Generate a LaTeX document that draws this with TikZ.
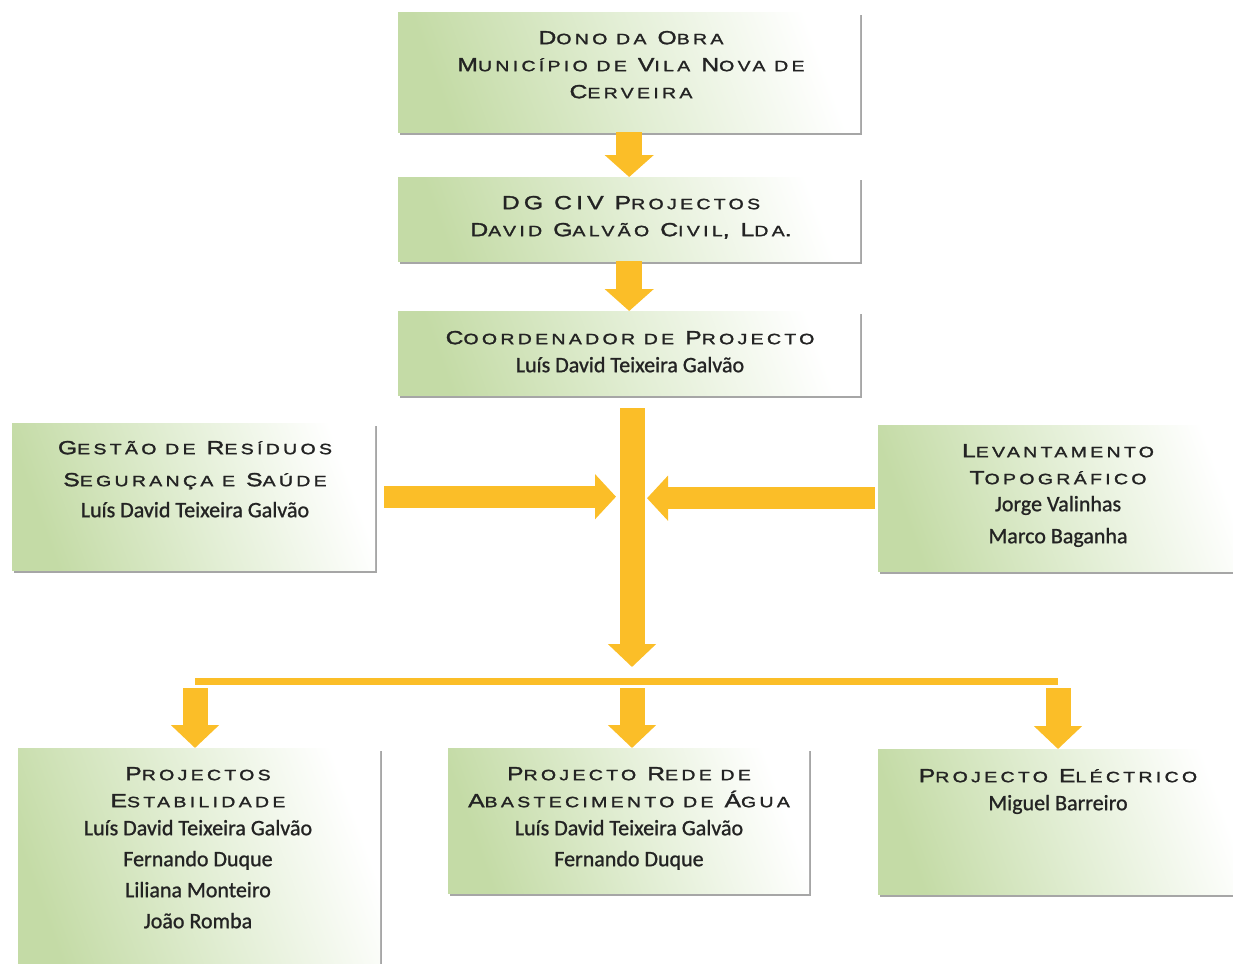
\documentclass[tikz,border=0pt]{standalone}
\usepackage{fontspec}
\usetikzlibrary{arrows.meta,shadows}
\newfontfamily\hdfont[FakeStretch=1.3,LetterSpace=22,FakeBold=1.6]{Liberation Sans}
\newfontfamily\nmfont[FakeBold=1]{Carlito}
\definecolor{arrowc}{RGB}{251,190,40}
\definecolor{boxg}{RGB}{196,219,166}
\definecolor{boxm}{RGB}{226,238,212}
\definecolor{hdc}{RGB}{35,35,35}
\newcommand\lsc[1]{{\fontsize{15}{27}\selectfont #1}}
\newcommand\nm[1]{{\nmfont\fontsize{22}{27}\selectfont #1}}
\tikzset{
  box/.style={rectangle, inner sep=0pt, top color=white, bottom color=boxg, middle color=boxm, shading angle=-70,
    drop shadow={shadow xshift=2pt, shadow yshift=-3pt, fill=black!50, opacity=0.7}},
  txt/.style={anchor=north, inner sep=0pt, align=center, text=hdc, font=\hdfont\fontsize{19}{27}\selectfont},
  arr/.style={draw=arrowc, line width=25pt, -{Triangle[width=47pt,length=23pt]}},
  sarr/.style={draw=arrowc, line width=26pt, -{Triangle[width=48pt,length=22pt]}},
  harr/.style={draw=arrowc, line width=22pt, -{Triangle[width=44pt,length=21pt]}}
}
\begin{document}
\begin{tikzpicture}[x=1pt,y=-1pt]
\useasboundingbox (0,0) rectangle (1233,963);
% boxes
\node[box, anchor=north west, minimum width=462pt, minimum height=120pt] (b1) at (398,12) {};
\node[box, anchor=north west, minimum width=462pt, minimum height=84pt] (b2) at (398,177) {};
\node[box, anchor=north west, minimum width=462pt, minimum height=84pt] (b3) at (398,311) {};
\node[box, anchor=north west, minimum width=363pt, minimum height=147pt] (bl) at (12,423) {};
\node[box, anchor=north west, minimum width=370pt, minimum height=146pt] (br) at (878,425) {};
\node[box, anchor=north west, minimum width=362pt, minimum height=230pt] (p1) at (18,748) {};
\node[box, anchor=north west, minimum width=361pt, minimum height=145pt] (p2) at (448,748) {};
\node[box, anchor=north west, minimum width=370pt, minimum height=145pt] (p3) at (878,749) {};
% texts
\node[txt] (t1) at (631,22) {\rule{0pt}{22pt}D\lsc{ONO DA} O\lsc{BRA}\\ M\lsc{UNICÍPIO DE} V\lsc{ILA} N\lsc{OVA DE}\\ C\lsc{ERVEIRA}};
\node[txt] (t2) at (631,187) {\rule{0pt}{22pt}DG CIV P\lsc{ROJECTOS}\\ D\lsc{AVID} G\lsc{ALVÃO} C\lsc{IVIL}, L\lsc{DA}.};
\node[txt] (t3) at (630,322) {\rule{0pt}{22pt}C\lsc{OORDENADOR DE} P\lsc{ROJECTO}\\[1pt] \nm{Luís David Teixeira Galvão}};
\node[txt] (tl) at (195,432) {\rule{0pt}{22pt}G\lsc{ESTÃO DE} R\lsc{ESÍDUOS}\\[5pt] S\lsc{EGURANÇA E} S\lsc{AÚDE}\\[4pt] \nm{Luís David Teixeira Galvão}};
\node[txt] (tr) at (1058,435) {\rule{0pt}{22pt}L\lsc{EVANTAMENTO}\\ T\lsc{OPOGRÁFICO}\\ \nm{Jorge Valinhas}\\[5pt] \nm{Marco Baganha}};
\node[txt] (tp1) at (198,758) {\rule{0pt}{22pt}P\lsc{ROJECTOS}\\ E\lsc{STABILIDADE}\\[1pt] \nm{Luís David Teixeira Galvão}\\[4pt] \nm{Fernando Duque}\\[4pt] \nm{Liliana Monteiro}\\[4pt] \nm{João Romba}};
\node[txt] (tp2) at (629,758) {\rule{0pt}{22pt}P\lsc{ROJECTO} R\lsc{EDE DE}\\ A\lsc{BASTECIMENTO DE} Á\lsc{GUA}\\[1pt] \nm{Luís David Teixeira Galvão}\\[4pt] \nm{Fernando Duque}};
\node[txt] (tp3) at (1058,760) {\rule{0pt}{22pt}P\lsc{ROJECTO} E\lsc{LÉCTRICO}\\[1pt] \nm{Miguel Barreiro}};
% connectors
\coordinate (hub) at (632,667);
\coordinate (jl) at (616,500);
\coordinate (jr) at (647,500);
\coordinate (barL) at (195,681);
\coordinate (barM) at (632,681);
\coordinate (barR) at (1058,681);
\draw[sarr] (b1.south) -- (b2.north);
\draw[sarr] (b2.south) -- (b3.north);
\draw[arr, shorten <=13pt] (b3.south -| hub) -- (hub);
\draw[harr, shorten <=9pt] (bl.east) -- (bl.east -| jl);
\draw[harr, shorten <=3pt] (br.west) -- (br.west -| jr);
\draw[draw=arrowc, line width=7pt] (barL) -- (barR);
\draw[arr, shorten <=7pt] (barL) -- (barL |- p1.north);
\draw[arr, shorten <=7pt] (barM) -- (barM |- p2.north);
\draw[arr, shorten <=7pt] (barR) -- (barR |- p3.north);
\end{tikzpicture}
\end{document}
